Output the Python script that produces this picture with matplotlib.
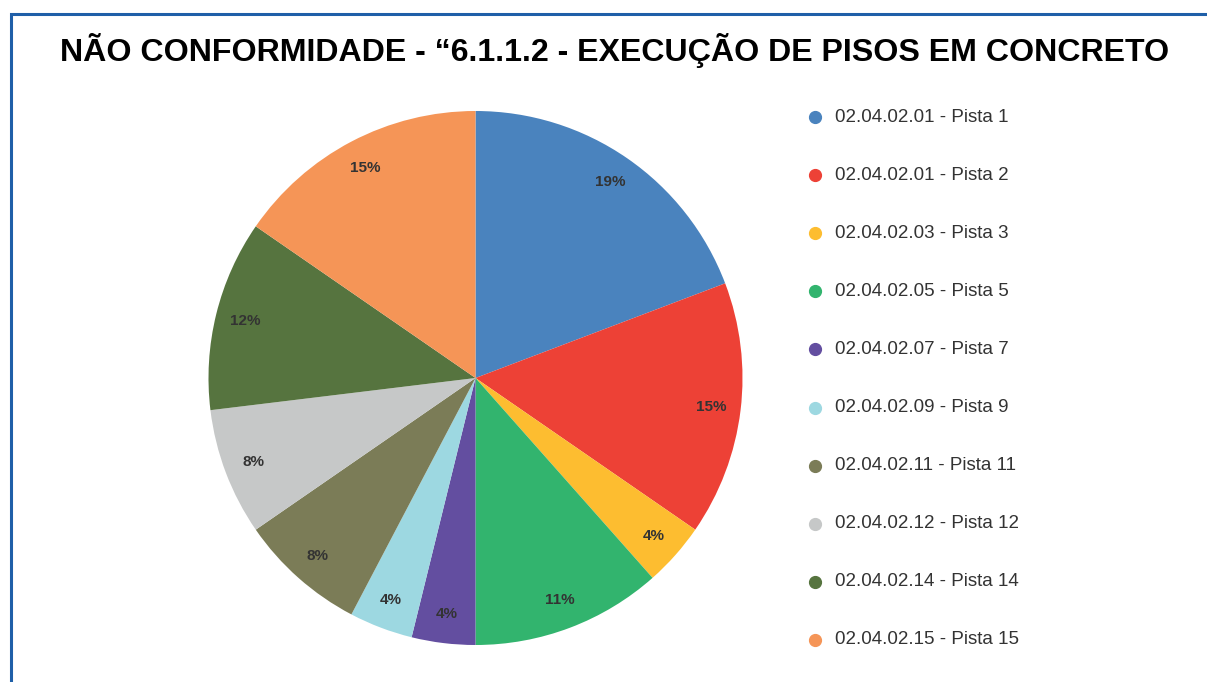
import matplotlib.pyplot as plt
import numpy as np
from matplotlib.lines import Line2D
from matplotlib.patches import Rectangle

plt.rcParams['font.family'] = ['Liberation Sans', 'DejaVu Sans']

categories = ['02.04.02.01 - Pista 1', '02.04.02.01 - Pista 2', '02.04.02.03 - Pista 3',
              '02.04.02.05 - Pista 5', '02.04.02.07 - Pista 7', '02.04.02.09 - Pista 9',
              '02.04.02.11 - Pista 11', '02.04.02.12 - Pista 12', '02.04.02.14 - Pista 14',
              '02.04.02.15 - Pista 15']
counts = [5, 4, 1, 3, 1, 1, 2, 2, 3, 4]
pct_labels = ['19%', '15%', '4%', '11%', '4%', '4%', '8%', '8%', '12%', '15%']
colors = ['#4a83be', '#ed4136', '#fdbd30', '#32b46e', '#634ea0', '#9dd8e1',
          '#7b7c57', '#c6c8c8', '#56743f', '#f59557']

W, H = 1207, 682
fig = plt.figure(figsize=(W / 100, H / 100), dpi=100)

# frame
fig.add_artist(Rectangle((10.5 / W, -0.01), 1.1, (H - 13.5) / H + 0.01,
                         transform=fig.transFigure, fill=False,
                         edgecolor='#1f5fa8', lw=2.2))

fig.text(615 / W, 1 - 51 / H, 'NÃO CONFORMIDADE - “6.1.1.2 - EXECUÇÃO DE PISOS EM CONCRETO',
         ha='center', va='center', fontsize=23.1, fontweight='bold', color='black')

cx, cy, r = 475.5, 378, 267
ax = fig.add_axes([(cx - r) / W, (H - cy - r) / H, 2 * r / W, 2 * r / H])
wedges, _ = ax.pie(counts, colors=colors, startangle=90, counterclock=False,
                   radius=1, wedgeprops=dict(linewidth=0))
for w, lab in zip(wedges, pct_labels):
    ang = np.deg2rad((w.theta1 + w.theta2) / 2)
    ax.text(0.89 * np.cos(ang), 0.89 * np.sin(ang), lab, ha='center', va='center',
            fontsize=11, fontweight='bold', color='#333333')
ax.set_xlim(-1, 1)
ax.set_ylim(-1, 1)
ax.set_aspect('equal')
ax.axis('off')

# legend
for i, (lab, c) in enumerate(zip(categories, colors)):
    y = 1 - (117 + i * 58.1) / H
    fig.add_artist(Line2D([815 / W], [y], marker='o', markersize=8.5, color=c,
                          linestyle='none', transform=fig.transFigure))
    fig.text(835 / W, y, lab, ha='left', va='center', fontsize=13.5, color='#333333')

fig.savefig('out.png', dpi=100)
